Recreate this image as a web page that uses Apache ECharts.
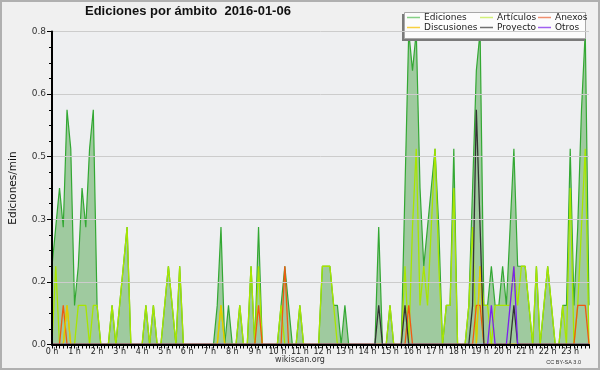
<!DOCTYPE html>
<html>
<head>
<meta charset="utf-8">
<script src="https://cdn.jsdelivr.net/npm/echarts@6/dist/echarts.min.js"></script>
<style>
html,body{margin:0;padding:0;background:#f0f0f0;}
#c{width:600px;height:370px;}
</style>
</head>
<body>
<div id="c"></div>
<script>
// Tick labels
const hourLabels = ['0','1','2','3','4','5','6','7','8','9','10','11','12','13','14','15','16','17','18','19','20','21','22','23'];
const minuteLabels = ['00','10','20','30','40','50'];
const seriesNames = ['Ediciones','Artículos','Anexos','Discusiones','Proyecto','Otros'];

// Edits per minute, 10-minute steps (6 values per hour)
const ediciones = [
0.2,0.3,0.4,0.3,0.6,0.5,
0.1,0.2,0.4,0.3,0.5,0.6,
0.1,0,0,0,0.1,0,
0.1,0.2,0.3,0,0,0,
0,0.1,0,0.1,0,0,
0.1,0.2,0.1,0,0.2,0,
0,0,0,0,0,0,
0,0,0.1,0.3,0,0.1,
0,0,0.1,0,0,0.2,
0,0.3,0,0,0,0,
0,0.1,0.2,0.1,0,0,
0.1,0,0,0,0,0,
0.2,0.2,0.2,0.1,0.1,0,
0.1,0,0,0,0,0,
0,0,0,0.3,0,0,
0.1,0,0,0,0.4,0.8,
0.7,0.8,0.4,0.2,0.3,0.4,
0.5,0.3,0,0.1,0.1,0.5,
0,0,0,0.1,0.4,0.7,
0.8,0.1,0.1,0.2,0.1,0.1,
0.2,0.1,0.3,0.5,0.2,0.2,
0.2,0.1,0,0.2,0,0.1,
0.2,0.1,0,0,0.1,0.1,
0.5,0.1,0.3,0.6,0.8,0.1
];
const articulos = [
0,0.2,0,0,0.1,0,
0,0.1,0.1,0.1,0,0.1,
0.1,0,0,0,0.1,0,
0.1,0.2,0.3,0,0,0,
0,0.1,0,0.1,0,0,
0.1,0.2,0.1,0,0.2,0,
0,0,0,0,0,0,
0,0,0,0.1,0,0,
0,0,0.1,0,0,0.2,
0,0.2,0,0,0,0,
0,0.1,0,0,0,0,
0.1,0,0,0,0,0,
0.2,0.2,0.2,0.1,0,0,
0,0,0,0,0,0,
0,0,0,0,0,0,
0.1,0,0,0,0.2,0,
0.3,0.5,0.1,0.2,0.1,0.3,
0.5,0.2,0,0.1,0.1,0.4,
0,0,0,0.1,0.3,0,
0.2,0.1,0.1,0,0.1,0.1,
0.1,0.1,0.1,0.2,0.1,0.2,
0.2,0.1,0,0.2,0,0.1,
0.2,0.1,0,0,0.1,0,
0.4,0,0.1,0.3,0.5,0
];
const anexos = [
0,0,0,0.1,0,0,
0,0,0,0,0,0,
0,0,0,0,0,0,
0,0,0,0,0,0,
0,0,0,0,0,0,
0,0,0,0,0,0,
0,0,0,0,0,0,
0,0,0,0,0,0,
0,0,0,0,0,0,
0,0.1,0,0,0,0,
0,0,0.2,0,0,0,
0,0,0,0,0,0,
0,0,0,0,0,0,
0,0,0,0,0,0,
0,0,0,0,0,0,
0,0,0,0,0,0.1,
0,0,0,0,0,0,
0,0,0,0,0,0,
0,0,0,0,0,0.1,
0.1,0,0,0,0,0,
0,0,0,0,0,0,
0,0,0,0,0,0,
0,0,0,0,0,0,
0,0,0.1,0.1,0.1,0
];
const discusiones = [
0,0,0,0,0.1,0,
0,0,0,0,0,0,
0,0,0,0,0,0,
0,0,0,0,0,0,
0,0,0,0,0,0,
0,0,0,0,0,0,
0,0,0,0,0,0,
0,0,0,0.1,0,0,
0,0,0,0,0,0,
0,0,0,0,0,0,
0,0,0,0,0,0,
0,0,0,0,0,0,
0,0,0,0,0,0,
0,0,0,0,0,0,
0,0,0,0,0,0,
0,0,0,0,0,0,
0,0,0,0,0,0,
0,0,0,0,0,0,
0,0,0,0,0,0,
0.2,0,0,0,0,0,
0,0,0,0,0,0,
0,0,0,0,0,0,
0,0,0,0,0,0,
0,0,0,0,0,0
];
const proyecto = [
0,0,0,0,0,0,
0,0,0,0,0,0,
0,0,0,0,0,0,
0,0,0,0,0,0,
0,0,0,0,0,0,
0,0,0,0,0,0,
0,0,0,0,0,0,
0,0,0,0,0,0,
0,0,0,0,0,0,
0,0,0,0,0,0,
0,0,0,0,0,0,
0,0,0,0,0,0,
0,0,0,0,0,0,
0,0,0,0,0,0,
0,0,0,0.1,0,0,
0,0,0,0,0.1,0,
0,0,0,0,0,0,
0,0,0,0,0,0,
0,0,0,0,0.1,0.6,
0.3,0,0,0,0,0,
0,0,0,0.1,0,0,
0,0,0,0,0,0,
0,0,0,0,0,0,
0,0,0,0,0,0
];
const otros = [
0,0,0,0,0,0,
0,0,0,0,0,0,
0,0,0,0,0,0,
0,0,0,0,0,0,
0,0,0,0,0,0,
0,0,0,0,0,0,
0,0,0,0,0,0,
0,0,0,0,0,0,
0,0,0,0,0,0,
0,0,0,0,0,0,
0,0,0,0,0,0,
0,0,0,0,0,0,
0,0,0,0,0,0,
0,0,0,0,0,0,
0,0,0,0,0,0,
0,0,0,0,0,0,
0,0,0,0,0,0,
0,0,0,0,0,0,
0,0,0,0,0,0,
0,0,0,0.1,0,0,
0,0,0.1,0.2,0,0,
0,0,0,0,0,0,
0,0,0,0,0,0,
0,0,0,0,0,0
];

const categories = [];
hourLabels.forEach(h => minuteLabels.forEach(m => categories.push(h + ':' + m)));

const lineColors = ['#33a833','#a8e600','#f05a10','#e8c800','#333333','#7a22ee'];
const legendColors = ['#86d086','#d2f07a','#f09070','#f8d040','#707070','#a060f0'];
const seriesData = [ediciones, articulos, anexos, discusiones, proyecto, otros];

const legendPos = [[407,13],[480,13],[538,13],[407,23],[480,23],[538,23]];

const chart = echarts.init(document.getElementById('c'), null, {renderer:'canvas'});
const option = {
  animation: false,
  backgroundColor: '#f0f0f0',
  textStyle: {fontFamily: 'DejaVu Sans'},
  title: {
    text: 'Ediciones por ámbito  2016-01-06',
    left: 85, top: 5, padding: 0,
    textStyle: {fontFamily: 'Liberation Sans', fontSize: 13, fontWeight: 'bold', color: '#111'}
  },
  grid: {left: 46, right: 11, top: 31.5, bottom: 25.5, show: true, backgroundColor: '#eeeff1', borderWidth: 0},
  legend: seriesNames.map((n, i) => ({
    data: [{name: n, itemStyle: {color: legendColors[i]}}],
    left: legendPos[i][0], top: legendPos[i][1], padding: 0,
    icon: 'rect', itemWidth: 13, itemHeight: 1.5, selectedMode: false, z: 6,
    textStyle: {fontFamily: 'DejaVu Sans', fontSize: 9, color: '#222', padding: [0,0,0,-1]}
  })),
  xAxis: {
    type: 'category', data: categories, boundaryGap: false, z: 10,
    axisLine: {lineStyle: {color: '#000', width: 2}},
    axisTick: {interval: 0, length: 4, lineStyle: {color: '#000'}},
    axisLabel: {interval: 5, margin: 3, fontSize: 8, color: '#222', formatter: v => v.split(':')[0] + ' h'},
    splitLine: {show: false}
  },
  yAxis: {
    type: 'value', min: 0, max: 0.8, interval: 0.16, z: 10,
    name: 'Ediciones/min', nameLocation: 'middle', nameGap: 33,
    nameTextStyle: {fontFamily: 'DejaVu Sans', fontSize: 10.5, color: '#111'},
    axisLine: {show: true, lineStyle: {color: '#000', width: 2}},
    axisTick: {show: true, length: 5, lineStyle: {color: '#000'}},
    minorTick: {show: true, splitNumber: 4, length: 3, lineStyle: {color: '#000'}},
    splitLine: {lineStyle: {color: '#cccccc'}},
    axisLabel: {margin: 6, fontSize: 9, color: '#333', formatter: v => v.toFixed(1)}
  },
  series: seriesNames.map((n, i) => {
    const s = {
      name: n, type: 'line', data: seriesData[i], symbol: 'none', z: 2 + i * 0.01,
      lineStyle: {color: lineColors[i], width: i === 0 ? 1.2 : 1.3},
      itemStyle: {color: legendColors[i]}
    };
    if (i === 0) s.areaStyle = {color: '#9fca9f', opacity: 1};
    return s;
  }),
  graphic: [
    {type: 'rect', shape: {x: 1, y: 1, width: 598, height: 368}, style: {fill: 'none', stroke: '#b0b0b0', lineWidth: 2}, z: 100},
    {type: 'rect', shape: {x: 402, y: 14, width: 183, height: 27}, style: {fill: '#7a7a7a'}, z: 4},
    {type: 'rect', shape: {x: 404.5, y: 12.5, width: 181, height: 26}, style: {fill: '#fcfcfc', stroke: '#a8a8a8', lineWidth: 1}, z: 4},
    {type: 'text', left: 'center', top: 356, style: {text: 'wikiscan.org', fontFamily: 'DejaVu Sans', fontSize: 8, fill: '#333'}, z: 5},
    {type: 'text', right: 19, top: 359, style: {text: 'CC BY-SA 3.0', fontFamily: 'Liberation Sans', fontSize: 5.5, fill: '#333'}, z: 5}
  ]
};
chart.setOption(option);
</script>
</body>
</html>
